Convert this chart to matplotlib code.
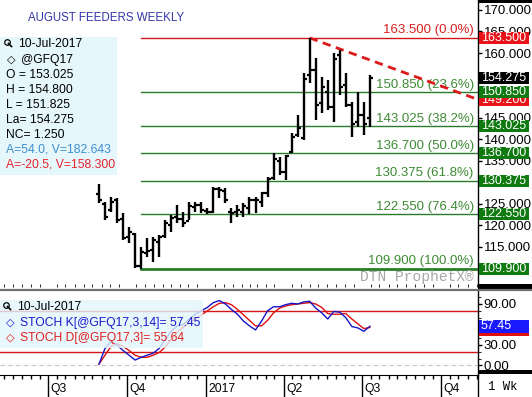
import matplotlib
matplotlib.use('Agg')
import matplotlib.pyplot as plt
import matplotlib.dates as mdates
from matplotlib.patches import Rectangle
from matplotlib.lines import Line2D
from matplotlib.transforms import blended_transform_factory
import pandas as pd

plt.rcParams['font.family'] = ['Liberation Sans', 'DejaVu Sans']

W, H = 532, 397

# weekly bars @GFQ17
week_start = '2016-08-29'
opens = [127.3, 125.0, 123.5, 125.8, 121.5, 117.2, 118.0, 110.6, 113.5, 114.2,
         116.2, 117.5, 120.2, 122.0, 121.4, 121.0, 124.3, 124.8, 123.3, 123.2,
         128.5, 128.0, 123.0, 123.0, 123.2, 124.0, 125.8, 125.5, 127.5, 131.0,
         135.0, 132.5, 137.0, 141.0, 140.2, 155.0, 156.0, 148.5, 151.0, 147.5,
         159.5, 152.5, 148.0, 144.0, 145.5, 145.0]
highs = [129.6, 125.4, 126.6, 126.4, 122.9, 119.6, 118.2, 115.0, 117.1, 117.3,
         117.8, 121.3, 122.4, 124.7, 123.1, 125.4, 125.4, 125.4, 124.0, 128.9,
         128.9, 128.7, 124.0, 124.7, 125.2, 126.6, 126.6, 127.8, 131.2, 136.8,
         135.9, 136.3, 141.4, 145.6, 155.4, 163.5, 158.8, 154.4, 153.7, 160.0,
         160.7, 155.4, 148.6, 150.9, 148.6, 154.8]
lows = [125.2, 121.3, 123.1, 120.6, 116.6, 115.9, 110.1, 109.9, 112.7, 111.5,
        112.7, 117.1, 118.5, 120.6, 119.6, 121.3, 123.1, 122.9, 122.7, 122.9,
        126.4, 125.2, 120.6, 122.0, 122.0, 122.6, 122.9, 124.3, 126.6, 130.5,
        131.7, 130.5, 136.8, 140.5, 139.8, 153.0, 144.5, 146.1, 146.8, 144.0,
        150.3, 147.5, 140.5, 142.8, 141.0, 142.8]
closes = [125.8, 122.0, 125.5, 121.2, 117.0, 118.5, 110.5, 113.8, 114.0, 116.5,
          117.2, 120.5, 121.8, 121.5, 120.5, 124.5, 124.8, 123.5, 123.2, 128.4,
          128.3, 125.8, 122.9, 123.5, 124.5, 125.8, 126.0, 127.5, 130.8, 135.5,
          132.5, 136.0, 140.5, 142.5, 154.0, 156.0, 148.0, 152.0, 147.5, 158.5,
          152.0, 148.0, 143.5, 145.5, 143.5, 154.275]

stoch_k = [2, 25, 35, 30, 22, 15, 8, 12, 15, 18,
           25, 38, 50, 58, 60, 68, 75, 80, 85, 92,
           95, 90, 82, 75, 65, 58, 52, 65, 80, 86,
           86, 89, 91, 90, 93, 94, 84, 77, 68, 79,
           78, 70, 57, 55, 50, 57.45]
stoch_d = [2, 15, 28, 32, 28, 22, 15, 12, 12, 15,
           19, 27, 38, 49, 56, 62, 68, 74, 80, 86,
           91, 92, 89, 82, 74, 66, 58, 58, 66, 77,
           84, 87, 89, 90, 91, 92, 90, 85, 76, 75,
           75, 76, 68, 61, 54, 55.64]

fib_prices = [163.5, 150.85, 143.025, 136.7, 130.375, 122.55, 109.9]
fib_pcts = ['0.0%', '23.6%', '38.2%', '50.0%', '61.8%', '76.4%', '100.0%']
low_bar = 7
high_bar = 35
trend_end = 149.2

tag_values = [163.5, 154.275, 149.2, 150.85, 143.025, 136.7, 130.375, 122.55, 109.9]
tag_colors = ['#e8141a', '#000000', '#e8141a', '#0f7a0f', '#0f7a0f', '#0f7a0f',
              '#0f7a0f', '#0f7a0f', '#0f7a0f']

# right axis labels that stay visible (others sit under the price tags)
price_ticks = [115, 120, 125, 135, 140, 145, 160, 165, 170]
stoch_ticks = [0, 30, 90]

quarter_dates = ['2016-07-01', '2016-10-01', '2017-01-01', '2017-04-01', '2017-07-01', '2017-10-01']
quarter_labels = ['Q3', 'Q4', '2017', 'Q2', 'Q3', 'Q4']

dates = mdates.date2num(pd.date_range(week_start, periods=len(highs), freq='7D'))


def fx(x):
    return x / W


def fy(y):
    return 1 - y / H


fig = plt.figure(figsize=(W / 100, H / 100), dpi=100)
fig.patch.set_facecolor('white')

ax = fig.add_axes([0, fy(284), fx(478), 284 / H])
ax2 = fig.add_axes([0, fy(375), fx(478), 84 / H], sharex=ax)

xmin, xmax = dates[0] - 115.1, dates[0] + 440.7
ax.set_xlim(xmin, xmax)
ax.set_ylim(106.4, 172.3)
ax2.set_ylim(-13.9, 109)

# price bars
ax.vlines(dates, lows, highs, color='k', lw=1.7, zorder=4)
ax.hlines(opens, dates - 3.5, dates, color='k', lw=1.6, zorder=4)
ax.hlines(closes, dates, dates + 3.5, color='k', lw=1.6, zorder=4)

# fib retracement levels
for i, (p, pct) in enumerate(zip(fib_prices, fib_pcts)):
    lcol = '#d01818' if i == 0 else '#2a7d2a'
    lw = 2.0 if i == len(fib_prices) - 1 else 1.0
    ax.plot([dates[low_bar], xmax], [p, p], color=lcol, lw=lw, zorder=2)
    ax.text(0.991, p + 0.35, '%.3f (%s)' % (p, pct), transform=blended_transform_factory(ax.transAxes, ax.transData),
            ha='right', va='bottom', fontsize=9.5, color='#3e8a34' if i else '#d82020', zorder=3)

# trend line off the high
ax.plot([dates[high_bar], xmax], [highs[high_bar], trend_end], color='#dd1a1a', lw=2.0,
        dashes=(3, 2), zorder=3, clip_on=False)

ax.text(474 / 478, 0.024, 'DTN ProphetX\u00ae', transform=ax.transAxes, ha='right', va='center',
        fontsize=10.5, color='#a8a8a8', family='Liberation Mono')

# stochastics
ax2.axhline(80, color='#d01818', lw=1.0)
ax2.axhline(20, color='#d01818', lw=1.0)
ax2.axhline(0, color='#c8c8c8', lw=0.8, ls=(0, (4, 3)))
ax2.plot(dates, stoch_d, color='#e01010', lw=1.0, zorder=3)
ax2.plot(dates, stoch_k, color='#1515c8', lw=1.0, zorder=3)

# right axes
for a in (ax, ax2):
    a.yaxis.tick_right()
    for s in ('left', 'top', 'bottom'):
        a.spines[s].set_visible(False)
    a.spines['right'].set_linewidth(1.0)
    a.tick_params(axis='y', direction='out', length=3, width=1, pad=1, labelsize=9.5)
ax2.spines['bottom'].set_visible(True)

ax.set_yticks(price_ticks)
ax.set_yticks(range(110, 171, 5), minor=True)
ax.yaxis.set_major_formatter(plt.FormatStrFormatter('%.3f'))
ax.tick_params(axis='y', which='minor', length=3, width=1, direction='out')
ax.tick_params(axis='x', bottom=False, labelbottom=False)
ax2.set_yticks(stoch_ticks)
ax2.set_yticks(range(0, 101, 10), minor=True)
ax2.yaxis.set_major_formatter(plt.FormatStrFormatter('%.2f'))
ax2.tick_params(axis='y', which='minor', length=2, direction='out')

ax2.xaxis.set_major_locator(mdates.MonthLocator(bymonth=[1, 4, 7, 10]))
ax2.xaxis.set_minor_locator(mdates.DayLocator(bymonthday=[1, 11, 21]))
ax2.tick_params(axis='x', which='major', length=16, width=1, labelbottom=False)
ax2.tick_params(axis='x', which='minor', length=3, width=1)
xtr = blended_transform_factory(ax2.transData, ax2.transAxes)
for d, lab in zip(quarter_dates, quarter_labels):
    ax2.text(mdates.datestr2num(d) + 2.5, -0.165, lab, transform=xtr, ha='left', va='center', fontsize=8.7)


def tag(a, y, text, fc, hpx, scale, z):
    tr = blended_transform_factory(a.transAxes, a.transData)
    h = hpx / scale
    a.add_patch(Rectangle((479 / 478, y - h / 2), 50 / 478, h, transform=tr, fc=fc, ec='none',
                          clip_on=False, zorder=z))
    a.text(481 / 478, y, text, transform=tr, ha='left', va='center', fontsize=9, color='white',
           clip_on=False, zorder=z + 0.1)


for i, (v, c) in enumerate(zip(tag_values, tag_colors)):
    tag(ax, v, '%.3f' % v, c, 12, 4.31, 5 + i * 0.2)
tag(ax2, stoch_d[-1] - 3, '', '#e01010', 12, 0.683, 5)
tag(ax2, stoch_k[-1], '%.2f' % stoch_k[-1], '#1a1aff', 13, 0.683, 5.5)

# title
fig.text(fx(106), fy(18), 'AUGUST FEEDERS WEEKLY', ha='center', va='center', fontsize=8.3, color='#3434a8')

# separators and right column decorations
fig.add_artist(Line2D([0, 1], [fy(289.5), fy(289.5)], color='#707070', lw=1.6))
for y0, y1 in [(0, 3), (284, 289), (370, 374)]:
    fig.add_artist(Rectangle((fx(478), fy(y1)), fx(54), (y1 - y0) / H, fc='k', ec='none'))
fig.add_artist(Line2D([fx(478), fx(478)], [fy(375), 0], color='k', lw=1.0))
fig.text(fx(503), fy(387), '1 Wk', ha='center', va='center', fontsize=8.8, family='Liberation Mono')


def magnifier(x, y):
    fig.add_artist(Line2D([fx(x)], [fy(y)], marker='o', ms=4, mfc='none', mec='k', mew=0.9))
    fig.add_artist(Line2D([fx(x + 1.5), fx(x + 4.5)], [fy(y + 1.5), fy(y + 4.5)], color='k', lw=1.2))


# quote legend
fig.add_artist(Rectangle((0, fy(175)), fx(117), (175 - 37) / H, fc='#e2f6fb', ec='none', alpha=0.85))
magnifier(7, 42)
fig.text(fx(18), fy(44), '10-Jul-2017', va='center', fontsize=8.7)
fig.text(fx(7), fy(60), '\u25c7', va='center', fontsize=8, fontweight='bold')
fig.text(fx(21), fy(60), '@GFQ17', va='center', fontsize=8.7)
quote_lines = ['O = 153.025', 'H = 154.800', 'L = 151.825', 'La= 154.275', 'NC= 1.250',
               'A=54.0, V=182.643', 'A=-20.5, V=158.300']
quote_colors = ['k', 'k', 'k', 'k', 'k', '#3d8fd1', '#e8202a']
for i, (s, c) in enumerate(zip(quote_lines, quote_colors)):
    fig.text(fx(6), fy(75 + i * 14.9), s, va='center', fontsize=8.7, color=c)

# stoch legend
fig.add_artist(Rectangle((0, fy(348)), fx(203), 48 / H, fc='#e2f6fb', ec='none', alpha=0.8))
magnifier(6, 305)
fig.text(fx(17), fy(307), '10-Jul-2017', va='center', fontsize=8.7)
fig.text(fx(6), fy(323), '\u25c7', va='center', fontsize=8, fontweight='bold', color='#1515c8')
fig.text(fx(20), fy(323), 'STOCH K[@GFQ17,3,14]= %.2f' % stoch_k[-1], va='center', fontsize=8.7, color='#1a1acc')
fig.text(fx(6), fy(338), '\u25c7', va='center', fontsize=8, fontweight='bold', color='#e01010')
fig.text(fx(20), fy(338), 'STOCH D[@GFQ17,3]= %.2f' % stoch_d[-1], va='center', fontsize=8.7, color='#e02020')

fig.savefig('out.png', dpi=100)
